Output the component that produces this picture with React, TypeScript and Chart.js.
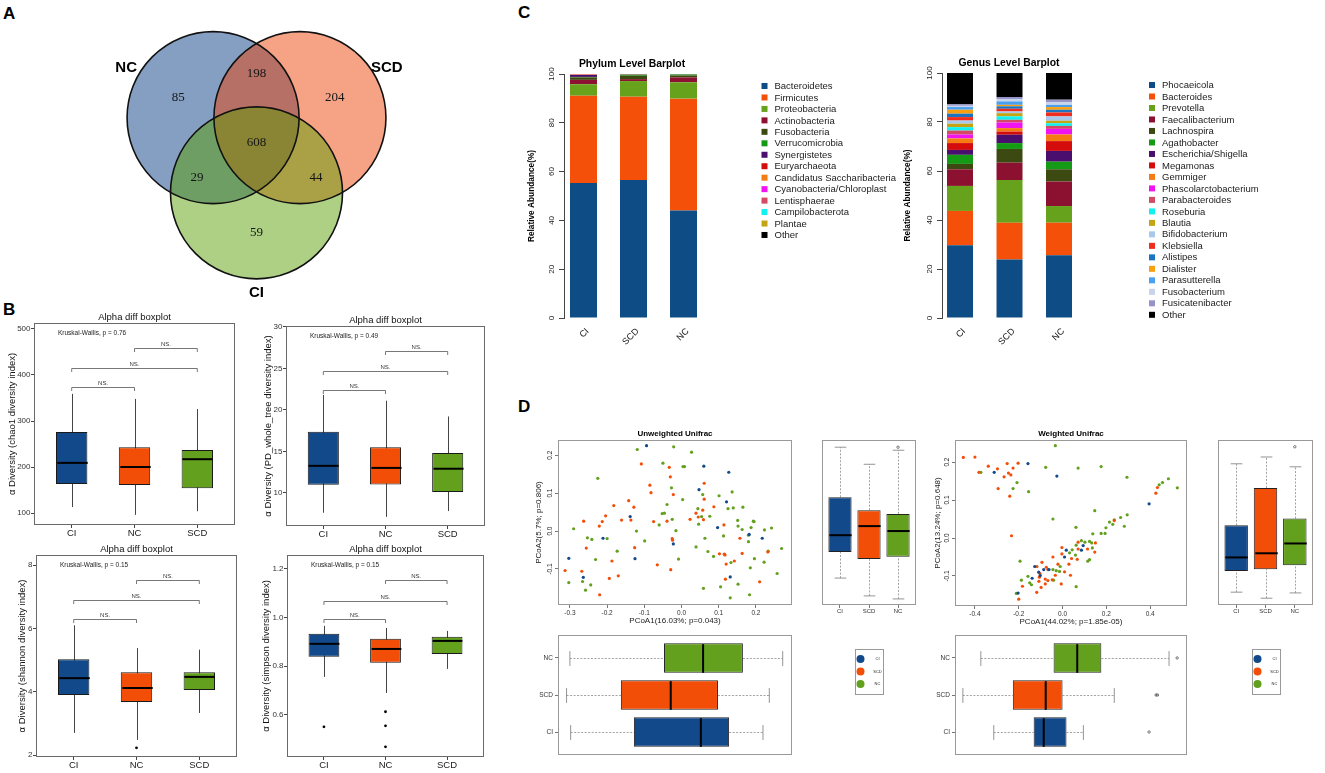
import React, { useEffect, useRef } from 'react';
import { Chart, registerables } from 'chart.js';

Chart.register(...registerables);

const SANS = '"Liberation Sans", Arial, Helvetica, sans-serif';
const SERIF = '"Liberation Serif", "Times New Roman", Times, serif';
Chart.defaults.font.family = SANS;
Chart.defaults.color = '#333';

/* ================= Panel A : Venn ================= */
const vennSets = ['NC', 'SCD', 'CI'];
const vennOnly = [85, 204, 59];
const vennPairs = [198, 44, 29]; // NC∩SCD, SCD∩CI, CI∩NC
const vennAll = 608;
const vennFill = ['rgba(0,55,128,0.48)', 'rgba(236,61,0,0.48)', 'rgba(86,157,0,0.48)'];

/* ================= Panel B : alpha diversity ================= */
const alphaGroups = ['CI', 'NC', 'SCD'];
const chao1Box = [[113, 163, 209, 276, 359], [96, 161, 200, 243, 348], [104, 154, 217, 237, 326]];
const chao1Out: number[][] = [[], [], []];
const chao1Ticks = [100, 200, 300, 400, 500];
const chao1Sig = [374, 415, 459];
const pdBox = [[7.6, 10.96, 13.25, 17.35, 21.8], [7.1, 11.0, 13.0, 15.5, 21.1], [7.8, 10.1, 12.9, 14.8, 19.2]];
const pdOut: number[][] = [[], [], []];
const pdTicks = [10, 15, 20, 25, 30];
const pdSig = [22.4, 24.7, 27.1];
const shannonBox = [[2.7, 3.9, 4.43, 5.03, 6.1], [2.48, 3.68, 4.12, 4.62, 5.38], [3.33, 4.06, 4.47, 4.62, 5.33]];
const shannonOut: number[][] = [[], [2.23], []];
const shannonTicks = [2, 4, 6, 8];
const shannonSig = [6.3, 6.9, 7.53];
const simpsonBox = [[0.756, 0.839, 0.892, 0.933, 0.966], [0.69, 0.814, 0.871, 0.913, 0.957], [0.789, 0.85, 0.904, 0.921, 0.945]];
const simpsonOut: number[][] = [[0.551], [0.613, 0.555, 0.469], []];
const simpsonTicks = [0.6, 0.8, 1.0, 1.2];
const simpsonSig = [0.995, 1.068, 1.155];
const sigPairs = [[1, 2], [1, 3], [2, 3]];
const kwP = ['0.76', '0.49', '0.15', '0.15'];

/* ================= Panel C : barplots ================= */
const barGroups = ['CI', 'SCD', 'NC'];
const phylumNames = ['Bacteroidetes', 'Firmicutes', 'Proteobacteria', 'Actinobacteria', 'Fusobacteria', 'Verrucomicrobia', 'Synergistetes', 'Euryarchaeota', 'Candidatus Saccharibacteria', 'Cyanobacteria/Chloroplast', 'Lentisphaerae', 'Campilobacterota', 'Plantae', 'Other'];
const phylumColors = ['#0d4c84', '#f5500a', '#66a21c', '#8c1030', '#3c4a12', '#149a14', '#4a0e6e', '#d40c0c', '#f57c12', '#f014f0', '#d24a64', '#12f0f0', '#c4a414', '#000000'];
const phylumCI = [55.3, 35.8, 4.7, 1.8, 1.0, 0.2, 0.8, 0.1, 0.1, 0.05, 0.05, 0.05, 0.05, 0.0];
const phylumSCD = [56.6, 34.1, 6.4, 0.8, 1.4, 0.4, 0.1, 0.05, 0.05, 0.03, 0.03, 0.02, 0.02, 0.0];
const phylumNC = [44.1, 45.8, 6.7, 2.0, 0.8, 0.4, 0.05, 0.05, 0.03, 0.02, 0.02, 0.02, 0.01, 0.0];
const genusNames = ['Phocaeicola', 'Bacteroides', 'Prevotella', 'Faecalibacterium', 'Lachnospira', 'Agathobacter', 'Escherichia/Shigella', 'Megamonas', 'Gemmiger', 'Phascolarctobacterium', 'Parabacteroides', 'Roseburia', 'Blautia', 'Bifidobacterium', 'Klebsiella', 'Alistipes', 'Dialister', 'Parasutterella', 'Fusobacterium', 'Fusicatenibacter', 'Other'];
const genusColors = ['#0d4c84', '#f5500a', '#66a21c', '#8c1030', '#3c4a12', '#149a14', '#4a0e6e', '#d40c0c', '#f57c12', '#f014f0', '#d24a64', '#12f0f0', '#c4a414', '#a8c8ec', '#f02c1c', '#1c74c0', '#f8a010', '#4aa0f0', '#c8d4ec', '#9494c8', '#000000'];
const genusCI = [29.7, 14.0, 10.2, 6.8, 2.2, 3.7, 2.0, 2.8, 1.9, 1.6, 1.6, 1.4, 1.4, 1.3, 1.4, 1.4, 1.6, 1.1, 0.5, 0.6, 12.8];
const genusSCD = [23.9, 15.0, 17.4, 7.1, 5.6, 2.4, 3.4, 1.3, 1.4, 2.3, 1.1, 1.4, 1.3, 0.7, 1.1, 1.0, 0.6, 1.4, 1.0, 0.8, 9.8];
const genusNC = [25.6, 13.3, 6.8, 10.0, 5.0, 3.1, 4.4, 4.0, 2.7, 2.3, 1.2, 1.1, 1.0, 1.8, 1.6, 1.1, 1.1, 0.9, 1.0, 1.1, 10.9];
const yPctTicks = [0, 20, 40, 60, 80, 100];

/* ================= Panel D : PCoA ================= */
const dGroups = ['CI', 'SCD', 'NC'];
const unwCI = [[-0.094, 0.225], [0.060, 0.171], [0.127, 0.155], [0.047, 0.109], [0.121, 0.077], [-0.138, 0.038], [0.097, 0.009], [0.182, -0.009], [-0.211, -0.019], [0.217, -0.019], [-0.022, -0.034], [-0.303, -0.072], [-0.125, -0.073], [-0.264, -0.122], [0.131, -0.121]];
const unwSCD = [[-0.108, 0.177], [-0.033, 0.168], [-0.030, 0.143], [-0.085, 0.121], [0.061, 0.126], [-0.082, 0.101], [-0.022, 0.096], [0.061, 0.084], [-0.142, 0.080], [0.087, 0.064], [-0.182, 0.067], [-0.128, 0.063], [-0.204, 0.040], [0.039, 0.047], [0.045, 0.037], [0.057, 0.055], [0.059, 0.030], [-0.136, 0.029], [-0.263, 0.026], [-0.213, 0.025], [-0.161, 0.029], [-0.075, 0.025], [-0.039, 0.026], [0.023, 0.031], [-0.221, 0.013], [0.114, 0.016], [0.157, -0.019], [-0.025, -0.020], [-0.024, -0.024], [0.232, -0.055], [-0.256, -0.045], [-0.126, -0.044], [0.163, -0.059], [0.102, -0.060], [0.115, -0.061], [0.117, -0.063], [-0.187, -0.079], [0.142, -0.079], [0.120, -0.087], [-0.065, -0.089], [-0.029, -0.102], [-0.313, -0.104], [-0.268, -0.106], [-0.194, -0.125], [-0.170, -0.118], [0.118, -0.127], [0.210, -0.134], [-0.220, -0.168]];
const unwNC = [[-0.119, 0.215], [-0.021, 0.222], [0.027, 0.208], [-0.050, 0.179], [0.004, 0.170], [0.008, 0.170], [-0.225, 0.139], [-0.027, 0.114], [0.057, 0.096], [0.101, 0.093], [0.136, 0.103], [0.003, 0.083], [-0.039, 0.070], [0.139, 0.061], [0.165, 0.063], [0.125, 0.059], [-0.052, 0.046], [-0.046, 0.047], [0.044, 0.059], [0.076, 0.039], [-0.025, 0.031], [0.046, 0.018], [0.054, 0.038], [-0.060, 0.016], [-0.290, 0.006], [-0.121, 0.000], [-0.015, 0.001], [0.151, 0.028], [0.152, 0.013], [0.163, 0.004], [0.193, 0.026], [0.195, 0.025], [0.187, 0.009], [0.223, 0.003], [0.242, 0.008], [0.180, -0.011], [0.113, -0.013], [0.063, -0.019], [-0.200, -0.020], [-0.253, -0.018], [-0.241, -0.022], [-0.099, -0.026], [0.180, -0.028], [-0.173, -0.053], [0.039, -0.042], [0.071, -0.054], [0.233, -0.053], [0.086, -0.067], [0.269, -0.046], [0.196, -0.073], [-0.231, -0.075], [-0.008, -0.074], [0.133, -0.083], [0.222, -0.082], [0.185, -0.097], [0.257, -0.112], [-0.303, -0.136], [-0.266, -0.133], [-0.244, -0.142], [0.105, -0.147], [0.059, -0.151], [0.152, -0.140], [-0.258, -0.156], [0.183, -0.168], [0.131, -0.176]];
const wCI = [[-0.312, 0.173], [-0.158, 0.196], [-0.026, 0.163], [0.395, 0.090], [0.094, -0.020], [0.086, -0.032], [0.017, -0.032], [0.009, -0.050], [-0.127, -0.075], [-0.062, -0.083], [-0.086, -0.083], [-0.109, -0.090], [-0.139, -0.106], [-0.102, -0.099], [-0.203, -0.145]];
const wSCD = [[-0.453, 0.212], [-0.400, 0.213], [-0.339, 0.189], [-0.382, 0.173], [-0.297, 0.182], [-0.253, 0.196], [-0.203, 0.197], [-0.226, 0.184], [-0.247, 0.171], [-0.236, 0.166], [-0.267, 0.161], [-0.294, 0.130], [-0.241, 0.110], [0.433, 0.133], [0.426, 0.118], [0.236, 0.046], [-0.233, 0.006], [0.071, -0.011], [-0.003, -0.025], [0.150, -0.013], [0.147, -0.037], [0.114, -0.029], [-0.003, -0.042], [-0.044, -0.050], [0.041, -0.054], [0.067, -0.056], [-0.021, -0.069], [0.029, -0.069], [-0.094, -0.064], [-0.117, -0.075], [-0.074, -0.077], [-0.067, -0.083], [0.009, -0.089], [-0.103, -0.094], [-0.033, -0.098], [0.036, -0.098], [-0.106, -0.103], [-0.079, -0.108], [-0.047, -0.110], [-0.067, -0.112], [-0.108, -0.114], [-0.183, -0.127], [-0.079, -0.121], [-0.006, -0.121], [-0.098, -0.130], [-0.118, -0.143], [-0.200, -0.161], [0.071, -0.029]];
const wNC = [[-0.033, 0.243], [-0.373, 0.173], [-0.077, 0.186], [0.071, 0.184], [0.176, 0.188], [0.294, 0.160], [-0.208, 0.146], [-0.226, 0.130], [-0.155, 0.122], [0.483, 0.156], [0.524, 0.132], [0.456, 0.146], [0.441, 0.140], [0.147, 0.072], [-0.044, 0.050], [0.295, 0.061], [0.265, 0.054], [0.236, 0.048], [0.214, 0.042], [0.229, 0.036], [0.198, 0.027], [0.282, 0.031], [0.061, 0.028], [0.138, 0.011], [0.176, 0.012], [0.194, 0.012], [0.086, -0.007], [0.102, -0.011], [0.123, -0.009], [0.133, -0.013], [0.062, -0.019], [0.136, -0.026], [0.044, -0.031], [0.032, -0.039], [0.059, -0.045], [0.115, -0.061], [0.123, -0.057], [-0.011, -0.075], [-0.194, -0.061], [-0.044, -0.083], [-0.029, -0.086], [-0.014, -0.088], [-0.158, -0.101], [-0.041, -0.111], [-0.188, -0.111], [-0.150, -0.118], [-0.142, -0.123], [0.062, -0.128], [-0.211, -0.146]];
const unwPC2Box = [[-0.124, -0.055, -0.011, 0.089, 0.221], [-0.171, -0.074, 0.013, 0.055, 0.176], [-0.179, -0.068, 0.0, 0.045, 0.213]];
const unwPC2Out: number[][] = [[], [], [0.221]];
const wPC2Box = [[-0.145, -0.089, -0.053, 0.032, 0.195], [-0.161, -0.084, -0.042, 0.131, 0.213], [-0.147, -0.074, -0.016, 0.050, 0.187]];
const wPC2Out: number[][] = [[], [], [0.240]];
const unwPC1Box = [[-0.298, -0.128, 0.052, 0.128, 0.219], [-0.309, -0.163, -0.029, 0.098, 0.236], [-0.300, -0.047, 0.058, 0.165, 0.272]];
const unwPC1Out: number[][] = [[], [], []];
const wPC1Box = [[-0.314, -0.132, -0.086, 0.018, 0.095], [-0.455, -0.227, -0.077, 0.0, 0.236], [-0.373, -0.041, 0.067, 0.177, 0.486]];
const wPC1Out: number[][] = [[0.395], [0.427, 0.433], [0.523]];
const unwXTicks = [-0.3, -0.2, -0.1, 0, 0.1, 0.2];
const unwYTicks = [-0.1, 0, 0.1, 0.2];
const wXTicks = [-0.4, -0.2, 0, 0.2, 0.4];
const wYTicks = [-0.1, 0, 0.1, 0.2];

const PALETTE = ['#12498a', '#f34e08', '#62a01d'];

/* ================= helpers ================= */
type Box = { x: number; y: number; w: number; h: number };
type T = { t: string; x: number; y: number; s: number; b?: boolean; c?: string; r?: number; a?: CanvasTextAlign; f?: string };

// Left and bottom margins belong to the axes (so their labels are not clipped);
// top and right margins are layout padding.
function base(canvas: Box, plot: Box): any {
  return {
    responsive: false,
    maintainAspectRatio: false,
    animation: false,
    events: [],
    layout: {
      autoPadding: false,
      padding: { left: 0, bottom: 0, top: plot.y - canvas.y, right: canvas.x + canvas.w - plot.x - plot.w },
    },
    plugins: { legend: { display: false }, tooltip: { enabled: false }, title: { display: false } },
  };
}
function fitter(canvas: Box, plot: Box) {
  const leftW = plot.x - canvas.x;
  const bottomH = canvas.y + canvas.h - plot.y - plot.h;
  return (s: any) => {
    if (s.isHorizontal()) s.height = bottomH;
    else s.width = leftW;
    s.paddingLeft = 0; s.paddingRight = 0; s.paddingTop = 0; s.paddingBottom = 0;
  };
}
const fixTicks = (vals: number[]) => (s: any) => { s.ticks = vals.map((v) => ({ value: v })); };
const tickGrid = (color = '#555', len = 3) => ({ display: true, drawOnChartArea: false, drawTicks: true, tickLength: len, color, lineWidth: 1, offset: false });
const noGrid = { display: false, offset: false };

function textsPlugin(canvas: Box, items: T[]) {
  return {
    id: 'texts',
    afterDraw(chart: any) {
      const ctx = chart.ctx as CanvasRenderingContext2D;
      for (const it of items) {
        ctx.save();
        ctx.translate(it.x - canvas.x, it.y - canvas.y);
        if (it.r) ctx.rotate((it.r * Math.PI) / 180);
        ctx.font = `${it.b ? 'bold ' : ''}${it.s}px ${it.f || SANS}`;
        ctx.fillStyle = it.c || '#000';
        ctx.textAlign = it.a || 'center';
        ctx.textBaseline = 'middle';
        ctx.fillText(it.t, 0, 0);
        ctx.restore();
      }
    },
  };
}
function framePlugin(color: string) {
  return {
    id: 'frame',
    afterDraw(chart: any) {
      const { left, top, right, bottom } = chart.chartArea;
      const ctx = chart.ctx;
      ctx.save();
      ctx.strokeStyle = color;
      ctx.lineWidth = 1;
      ctx.strokeRect(left + 0.5, top + 0.5, right - left - 1, bottom - top - 1);
      ctx.restore();
    },
  };
}
function boxPlugin(stats: number[][], horizontal: boolean, style: 'gg' | 'r') {
  const seg = (ctx: CanvasRenderingContext2D, v1: number, v2: number, a1: number, a2: number) => {
    ctx.beginPath();
    if (horizontal) { ctx.moveTo(v1, a1); ctx.lineTo(v2, a2); } else { ctx.moveTo(a1, v1); ctx.lineTo(a2, v2); }
    ctx.stroke();
  };
  const geom = (chart: any, i: number) => {
    const iS = horizontal ? chart.scales.y : chart.scales.x;
    const vS = horizontal ? chart.scales.x : chart.scales.y;
    const el = chart.getDatasetMeta(0).data[i];
    const half = (horizontal ? el.height : el.width) / 2;
    const c = Math.round(iS.getPixelForValue(i + 1)) + 0.5;
    const p = stats[i].map((v) => vS.getPixelForValue(v));
    return { half, c, p };
  };
  return {
    id: 'boxExtras',
    beforeDatasetsDraw(chart: any) {
      const ctx = chart.ctx as CanvasRenderingContext2D;
      ctx.save();
      stats.forEach((_, i) => {
        const { half, c, p } = geom(chart, i);
        if (style === 'gg') {
          ctx.strokeStyle = '#444'; ctx.lineWidth = 1;
          seg(ctx, p[0], p[4], c, c);
        } else {
          ctx.strokeStyle = '#999'; ctx.lineWidth = 0.9; ctx.setLineDash([2, 1.5]);
          seg(ctx, p[0], p[1], c, c);
          seg(ctx, p[3], p[4], c, c);
          ctx.setLineDash([]);
          ctx.strokeStyle = '#888';
          seg(ctx, p[0], p[0], c - half / 2, c + half / 2);
          seg(ctx, p[4], p[4], c - half / 2, c + half / 2);
        }
      });
      ctx.restore();
    },
    afterDatasetsDraw(chart: any) {
      const ctx = chart.ctx as CanvasRenderingContext2D;
      ctx.save();
      ctx.strokeStyle = '#000';
      ctx.lineWidth = 2;
      stats.forEach((_, i) => {
        const { half, c, p } = geom(chart, i);
        seg(ctx, p[2], p[2], c - half + 0.5, c + half - 0.5);
      });
      ctx.restore();
    },
  };
}
function sigPlugin(ys: number[]) {
  return {
    id: 'sig',
    afterDraw(chart: any) {
      const { ctx, scales: { x, y } } = chart;
      ctx.save();
      ctx.strokeStyle = '#555'; ctx.lineWidth = 0.8; ctx.fillStyle = '#333';
      ctx.font = `6px ${SANS}`; ctx.textAlign = 'center'; ctx.textBaseline = 'middle';
      sigPairs.forEach(([a, b], k) => {
        const py = Math.round(y.getPixelForValue(ys[k])) + 0.5;
        const x1 = x.getPixelForValue(a), x2 = x.getPixelForValue(b);
        ctx.beginPath(); ctx.moveTo(x1, py + 3.5); ctx.lineTo(x1, py); ctx.lineTo(x2, py); ctx.lineTo(x2, py + 3.5); ctx.stroke();
        ctx.fillText('NS.', (x1 + x2) / 2, py - 4.5);
      });
      ctx.restore();
    },
  };
}
function rotYLabels(vals: number[], fmt: (v: number) => string, dx: number, size: number) {
  return {
    id: 'rotY',
    afterDraw(chart: any) {
      const ctx = chart.ctx as CanvasRenderingContext2D; const s = chart.scales.y;
      ctx.save(); ctx.fillStyle = '#222'; ctx.font = `${size}px ${SANS}`; ctx.textAlign = 'center'; ctx.textBaseline = 'middle';
      vals.forEach((v) => {
        ctx.save(); ctx.translate(chart.chartArea.left - dx, s.getPixelForValue(v)); ctx.rotate(-Math.PI / 2);
        ctx.fillText(fmt(v), 0, 0); ctx.restore();
      });
      ctx.restore();
    },
  };
}
function rotXLabels(labels: string[], dy: number, size: number) {
  return {
    id: 'rotX',
    afterDraw(chart: any) {
      const ctx = chart.ctx as CanvasRenderingContext2D; const s = chart.scales.x;
      ctx.save(); ctx.fillStyle = '#111'; ctx.font = `${size}px ${SANS}`; ctx.textAlign = 'right'; ctx.textBaseline = 'middle';
      labels.forEach((l, i) => {
        ctx.save(); ctx.translate(s.getPixelForValue(i + 1) + 4, chart.chartArea.bottom + dy); ctx.rotate(-Math.PI / 4);
        ctx.fillText(l, 0, 0); ctx.restore();
      });
      ctx.restore();
    },
  };
}
function sqLegend(canvas: Box, sx: number, y0: number, step: number) {
  return {
    id: 'sqLegend',
    afterDraw(chart: any) {
      const ctx = chart.ctx as CanvasRenderingContext2D;
      ctx.save(); ctx.font = `9.5px ${SANS}`; ctx.textAlign = 'left'; ctx.textBaseline = 'middle';
      chart.data.datasets.forEach((d: any, i: number) => {
        const y = y0 + i * step - canvas.y; const x = sx - canvas.x;
        ctx.fillStyle = d.backgroundColor; ctx.fillRect(x - 3, y - 3, 6, 6);
        ctx.fillStyle = '#1a1a1a'; ctx.fillText(d.label, x + 10, y + 0.5);
      });
      ctx.restore();
    },
  };
}
function dotLegend(canvas: Box, bx: number, by: number) {
  return {
    id: 'dotLegend',
    afterDraw(chart: any) {
      const ctx = chart.ctx as CanvasRenderingContext2D;
      const x0 = bx - canvas.x, y0 = by - canvas.y;
      const cols = chart.data.datasets[0].backgroundColor;
      ctx.save(); ctx.strokeStyle = '#999'; ctx.lineWidth = 1; ctx.strokeRect(x0 + 0.5, y0 + 0.5, 28, 45);
      dGroups.forEach((g, i) => {
        const cy = y0 + 10 + i * 12.5;
        ctx.beginPath(); ctx.arc(x0 + 5.5, cy, 4, 0, 2 * Math.PI); ctx.fillStyle = cols[i]; ctx.fill();
        ctx.fillStyle = '#222'; ctx.font = `4px ${SANS}`; ctx.textAlign = 'center'; ctx.textBaseline = 'middle';
        ctx.fillText(g, x0 + 22.5, cy);
      });
      ctx.restore();
    },
  };
}

/* ================= chart builders ================= */
const VENN_X: [number, number] = [-1.936, 1.901];
const VENN_Y: [number, number] = [-1.887, 1.369];

function vennBuild(canvas: Box) {
  const d = 1.01 / Math.sqrt(3);
  const ang = [150, 30, 270].map((a) => (a * Math.PI) / 180);
  const unit = (i: number) => [Math.cos(ang[i]), Math.sin(ang[i])];
  const pts = vennSets.map((_, i) => ({ x: d * unit(i)[0], y: d * unit(i)[1] }));
  const radius = canvas.w / (VENN_X[1] - VENN_X[0]); // pixel size of one unit (circle radius = 1)
  const labels = {
    id: 'vennLabels',
    afterDatasetsDraw(chart: any) {
      const { ctx, scales: { x, y } } = chart;
      const put = (t: string, vx: number, vy: number, font: string) => { ctx.font = font; ctx.fillText(t, x.getPixelForValue(vx), y.getPixelForValue(vy)); };
      ctx.save(); ctx.textAlign = 'center'; ctx.textBaseline = 'middle'; ctx.fillStyle = '#151515';
      const serif = `13px ${SERIF}`;
      vennOnly.forEach((n, i) => { const [ux, uy] = unit(i); put(String(n), 1.05 * ux, 1.05 * uy, serif); });
      vennPairs.forEach((n, k) => { const [ux, uy] = unit((k + 2) % 3); put(String(n), -0.8 * ux, -0.8 * uy, serif); });
      put(String(vennAll), 0, 0, serif);
      ctx.fillStyle = '#000';
      vennSets.forEach((s, i) => { const [ux, uy] = unit(i); put(s, 1.75 * ux, 1.75 * uy, `bold 15px ${SANS}`); });
      ctx.restore();
    },
  };
  return {
    type: 'bubble',
    data: {
      datasets: [
        { data: pts, backgroundColor: 'rgba(0,0,0,0)', borderColor: '#111', borderWidth: 1.6, radius, clip: false },
        { data: pts, backgroundColor: vennFill, borderColor: 'rgba(0,0,0,0)', borderWidth: 0, radius, clip: false },
      ],
    },
    options: {
      responsive: false,
      animation: false,
      events: [],
      layout: { autoPadding: false, padding: 0 },
      plugins: { legend: { display: false }, tooltip: { enabled: false } },
      scales: {
        x: { type: 'linear', min: VENN_X[0], max: VENN_X[1], display: false },
        y: { type: 'linear', min: VENN_Y[0], max: VENN_Y[1], display: false },
      },
    },
    plugins: [labels],
  };
}

function alphaBuild(canvas: Box, plot: Box, box: number[][], out: number[][], yr: [number, number], ticks: number[], sig: number[], p: string, yTitle: string, yTitleX: number, fmt: (v: number) => string) {
  const fit = fitter(canvas, plot);
  return {
    type: 'bar',
    data: {
      datasets: [
        { type: 'bar', data: box.map((b, i) => ({ x: i + 1, y: [b[1], b[3]] })), backgroundColor: PALETTE, borderColor: '#1a1a1a', borderWidth: 1, borderSkipped: false, barPercentage: 0.5, categoryPercentage: 1, order: 2 },
        { type: 'scatter', data: out.flatMap((o, i) => o.map((v) => ({ x: i + 1, y: v }))), backgroundColor: '#000', borderWidth: 0, pointRadius: 1.4, order: 1 },
      ],
    },
    options: {
      ...base(canvas, plot),
      scales: {
        x: { type: 'linear', min: 0.4, max: 3.6, offset: false, afterBuildTicks: fixTicks([1, 2, 3]), afterFit: fit,
          ticks: { callback: (v: number) => alphaGroups[v - 1], font: { size: 9.5 }, color: '#1a1a1a', padding: 0, autoSkip: false, maxRotation: 0, minRotation: 0 },
          grid: tickGrid('#444', 3), border: { display: false } },
        y: { type: 'linear', min: yr[0], max: yr[1], offset: false, afterBuildTicks: fixTicks(ticks), afterFit: fit,
          ticks: { callback: fmt, font: { size: 8 }, color: '#333', padding: 0.5, autoSkip: false },
          grid: tickGrid('#444', 3), border: { display: false } },
      },
    },
    plugins: [
      boxPlugin(box, false, 'gg'),
      sigPlugin(sig),
      framePlugin('#6a6a6a'),
      textsPlugin(canvas, [
        { t: 'Alpha diff boxplot', x: plot.x + plot.w / 2, y: plot.y - 6, s: 9.5, c: '#111' },
        { t: `Kruskal-Wallis, p = ${p}`, x: plot.x + 24, y: plot.y + 10, s: 6.5, a: 'left', c: '#222' },
        { t: yTitle, x: yTitleX, y: plot.y + plot.h / 2, s: 9.5, r: -90, c: '#111' },
      ]),
    ],
  };
}

function stackBuild(canvas: Box, plot: Box, names: string[], colors: string[], series: number[][], xr: [number, number], barPct: number, title: string, yTitleX: number, legX: number, legY: number, legStep: number) {
  const fit = fitter(canvas, plot);
  return {
    type: 'bar',
    data: {
      datasets: names.map((n, k) => ({
        label: n,
        data: series.map((s, g) => ({ x: g + 1, y: s[k] })),
        backgroundColor: colors[k],
        borderWidth: 0,
        barPercentage: barPct,
        categoryPercentage: 1,
      })),
    },
    options: {
      ...base(canvas, plot),
      scales: {
        x: { type: 'linear', stacked: true, min: xr[0], max: xr[1], offset: false, afterBuildTicks: fixTicks([1, 2, 3]), afterFit: fit,
          ticks: { display: false }, grid: noGrid, border: { display: false } },
        y: { type: 'linear', stacked: true, min: 0, max: 100, offset: false, afterBuildTicks: fixTicks(yPctTicks), afterFit: fit,
          ticks: { display: false }, grid: tickGrid('#444', 5), border: { display: true, color: '#444', width: 1 } },
      },
    },
    plugins: [
      rotYLabels(yPctTicks, (v) => String(v), 12, 8),
      rotXLabels(barGroups, 12, 9),
      sqLegend(canvas, legX, legY, legStep),
      textsPlugin(canvas, [
        { t: title, x: plot.x + plot.w / 2 - 2, y: plot.y - 10, s: 10.4, b: true },
        { t: 'Relative Abundance(%)', x: yTitleX, y: plot.y + plot.h / 2, s: 8.3, b: true, r: -90 },
      ]),
    ],
  };
}

const fmt1 = (v: number) => (Math.abs(v) < 1e-9 ? '0.0' : v.toFixed(1));

function pcoaBuild(canvas: Box, plot: Box, pts: number[][][], xr: [number, number], yr: [number, number], xt: number[], yt: number[], title: string, xTitle: string, yTitle: string, yTitleX: number) {
  const fit = fitter(canvas, plot);
  return {
    type: 'scatter',
    data: {
      datasets: pts.map((arr, g) => ({
        label: dGroups[g],
        data: arr.map(([x, y]) => ({ x, y })),
        backgroundColor: PALETTE[g],
        borderWidth: 0,
        pointRadius: 1.6,
      })),
    },
    options: {
      ...base(canvas, plot),
      scales: {
        x: { type: 'linear', min: xr[0], max: xr[1], afterBuildTicks: fixTicks(xt), afterFit: fit,
          ticks: { callback: fmt1, font: { size: 6.5 }, color: '#333', padding: 1, autoSkip: false, maxRotation: 0, minRotation: 0 },
          grid: tickGrid('#777', 3), border: { display: false } },
        y: { type: 'linear', min: yr[0], max: yr[1], afterBuildTicks: fixTicks(yt), afterFit: fit,
          ticks: { display: false }, grid: tickGrid('#777', 3), border: { display: false } },
      },
    },
    plugins: [
      framePlugin('#999'),
      rotYLabels(yt, fmt1, 8, 6.5),
      textsPlugin(canvas, [
        { t: title, x: plot.x + plot.w / 2, y: plot.y - 6, s: 8, b: true },
        { t: xTitle, x: plot.x + plot.w / 2, y: plot.y + plot.h + 16, s: 8, c: '#222' },
        { t: yTitle, x: yTitleX, y: plot.y + plot.h / 2, s: 8, r: -90, c: '#222' },
      ]),
    ],
  };
}

function rBoxBuild(canvas: Box, plot: Box, stats: number[][], outs: number[][], horizontal: boolean, vr: [number, number], legend?: [number, number]) {
  const fit = fitter(canvas, plot);
  const idx = { type: 'linear', min: 0.38, max: 3.62, offset: false, afterBuildTicks: fixTicks([1, 2, 3]), afterFit: fit,
    ticks: { callback: (v: number) => dGroups[v - 1], font: { size: horizontal ? 6.5 : 6 }, color: '#333', padding: horizontal ? 2 : 0, autoSkip: false, maxRotation: 0, minRotation: 0 },
    grid: tickGrid('#777', 3), border: { display: false } };
  const val = { type: 'linear', min: vr[0], max: vr[1], offset: false, afterFit: fit, ticks: { display: false }, grid: noGrid, border: { display: false } };
  const plugins: any[] = [boxPlugin(stats, horizontal, 'r'), framePlugin('#999')];
  if (legend) plugins.push(dotLegend(canvas, legend[0], legend[1]));
  return {
    type: 'bar',
    data: {
      datasets: [
        { type: 'bar', indexAxis: horizontal ? 'y' : 'x', data: stats.map((s, i) => (horizontal ? { y: i + 1, x: [s[1], s[3]] } : { x: i + 1, y: [s[1], s[3]] })),
          backgroundColor: PALETTE, borderColor: '#222', borderWidth: 1, borderSkipped: false, barPercentage: 0.8, categoryPercentage: 1, order: 2 },
        { type: 'scatter', data: outs.flatMap((o, i) => o.map((v) => (horizontal ? { x: v, y: i + 1 } : { x: i + 1, y: v }))),
          backgroundColor: 'rgba(0,0,0,0)', borderColor: '#444', borderWidth: 0.7, pointRadius: 1.2, order: 1 },
      ],
    },
    options: { ...base(canvas, plot), scales: horizontal ? { x: val, y: idx } : { x: idx, y: val } },
    plugins,
  };
}

/* ================= layout ================= */
const VENN: Box = { x: 90, y: 25, w: 330, h: 280 };
const B1c: Box = { x: 0, y: 300, w: 245, h: 240 }, B1p: Box = { x: 34, y: 323, w: 201, h: 202 };
const B2c: Box = { x: 250, y: 300, w: 245, h: 240 }, B2p: Box = { x: 286, y: 326, w: 199, h: 200 };
const B3c: Box = { x: 0, y: 540, w: 245, h: 233 }, B3p: Box = { x: 36, y: 555, w: 201, h: 202 };
const B4c: Box = { x: 250, y: 540, w: 245, h: 233 }, B4p: Box = { x: 287, y: 555, w: 197, h: 202 };
const PHc: Box = { x: 515, y: 40, w: 385, h: 312 }, PHp: Box = { x: 564, y: 74, w: 140, h: 244 };
const GEc: Box = { x: 900, y: 40, w: 423, h: 312 }, GEp: Box = { x: 942, y: 73, w: 138, h: 245 };
const USc: Box = { x: 515, y: 420, w: 285, h: 208 }, USp: Box = { x: 558, y: 440, w: 234, h: 165 };
const UVc: Box = { x: 805, y: 425, w: 120, h: 200 }, UVp: Box = { x: 822, y: 440, w: 94, h: 165 };
const WSc: Box = { x: 925, y: 420, w: 275, h: 208 }, WSp: Box = { x: 955, y: 440, w: 232, h: 166 };
const WVc: Box = { x: 1205, y: 425, w: 118, h: 200 }, WVp: Box = { x: 1218, y: 440, w: 95, h: 165 };
const UHc: Box = { x: 530, y: 628, w: 370, h: 140 }, UHp: Box = { x: 558, y: 635, w: 234, h: 120 };
const WHc: Box = { x: 925, y: 628, w: 365, h: 140 }, WHp: Box = { x: 955, y: 635, w: 232, h: 120 };

const UNW_X: [number, number] = [-0.332, 0.297];
const UNW_Y: [number, number] = [-0.195, 0.24];
const W_X: [number, number] = [-0.491, 0.568];
const W_Y: [number, number] = [-0.179, 0.258];

function ChartCanvas({ box, build }: { box: Box; build: () => any }) {
  const ref = useRef<HTMLCanvasElement | null>(null);
  useEffect(() => {
    if (!ref.current) return;
    const chart = new Chart(ref.current, build());
    return () => chart.destroy();
  }, []);
  return (
    <canvas ref={ref} width={box.w} height={box.h}
      style={{ position: 'absolute', left: box.x, top: box.y, width: box.w, height: box.h, display: 'block' }} />
  );
}

function Letter({ t, x, y }: { t: string; x: number; y: number }) {
  return (
    <div style={{ position: 'absolute', left: x, top: y - 9, fontFamily: SANS, fontWeight: 'bold', fontSize: 17, lineHeight: '17px', color: '#000' }}>{t}</div>
  );
}

const intFmt = (v: number) => String(v);
const oneFmt = (v: number) => v.toFixed(1);

export default function App() {
  return (
    <div style={{ position: 'absolute', left: 0, top: 0, width: 1325, height: 773, background: '#fff', overflow: 'hidden' }}>
      <Letter t="A" x={3} y={14} />
      <Letter t="B" x={3} y={310} />
      <Letter t="C" x={518} y={13} />
      <Letter t="D" x={518} y={407} />

      <ChartCanvas box={VENN} build={() => vennBuild(VENN)} />

      <ChartCanvas box={B1c} build={() => alphaBuild(B1c, B1p, chao1Box, chao1Out, [74, 513], chao1Ticks, chao1Sig, kwP[0], 'α Diversity (chao1 diversity index)', 12, intFmt)} />
      <ChartCanvas box={B2c} build={() => alphaBuild(B2c, B2p, pdBox, pdOut, [6.0, 30.1], pdTicks, pdSig, kwP[1], 'α Diversity (PD_whole_tree diversity index)', 268, intFmt)} />
      <ChartCanvas box={B3c} build={() => alphaBuild(B3c, B3p, shannonBox, shannonOut, [1.94, 8.32], shannonTicks, shannonSig, kwP[2], 'α Diversity (shannon diversity index)', 22, intFmt)} />
      <ChartCanvas box={B4c} build={() => alphaBuild(B4c, B4p, simpsonBox, simpsonOut, [0.427, 1.257], simpsonTicks, simpsonSig, kwP[3], 'α Diversity (simpson diversity index)', 266, oneFmt)} />

      <ChartCanvas box={PHc} build={() => stackBuild(PHc, PHp, phylumNames, phylumColors, [phylumCI, phylumSCD, phylumNC], [0.61, 3.41], 0.54, 'Phylum Level Barplot', 532, 764.5, 86, 11.46)} />
      <ChartCanvas box={GEc} build={() => stackBuild(GEc, GEp, genusNames, genusColors, [genusCI, genusSCD, genusNC], [0.636, 3.424], 0.525, 'Genus Level Barplot', 908, 1152, 85, 11.49)} />

      <ChartCanvas box={USc} build={() => pcoaBuild(USc, USp, [unwCI, unwSCD, unwNC], UNW_X, UNW_Y, unwXTicks, unwYTicks, 'Unweighted Unifrac', 'PCoA1(16.03%; p=0.043)', 'PCoA2(5.7%; p=0.806)', 539)} />
      <ChartCanvas box={UVc} build={() => rBoxBuild(UVc, UVp, unwPC2Box, unwPC2Out, false, UNW_Y)} />
      <ChartCanvas box={WSc} build={() => pcoaBuild(WSc, WSp, [wCI, wSCD, wNC], W_X, W_Y, wXTicks, wYTicks, 'Weighted Unifrac', 'PCoA1(44.02%; p=1.85e-05)', 'PCoA2(13.24%; p=0.648)', 938)} />
      <ChartCanvas box={WVc} build={() => rBoxBuild(WVc, WVp, wPC2Box, wPC2Out, false, W_Y)} />
      <ChartCanvas box={UHc} build={() => rBoxBuild(UHc, UHp, unwPC1Box, unwPC1Out, true, UNW_X, [855, 649])} />
      <ChartCanvas box={WHc} build={() => rBoxBuild(WHc, WHp, wPC1Box, wPC1Out, true, W_X, [1252, 649])} />
    </div>
  );
}
